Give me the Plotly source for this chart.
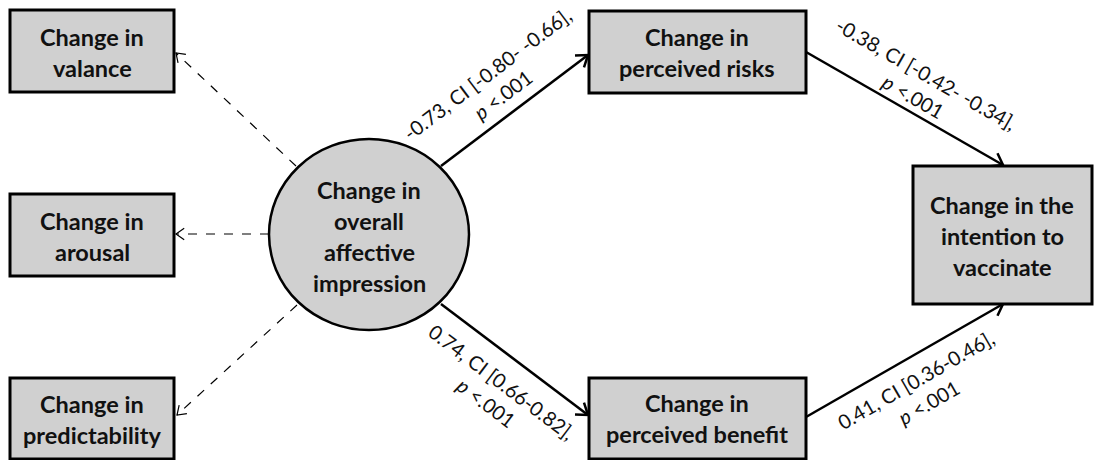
import math
import plotly.graph_objects as go

# ---- data (text content) ----
node_ids = ["valance", "arousal", "predict", "overall", "risks", "benefit", "intention"]
node_lines = [
    ["Change in", "valance"],
    ["Change in", "arousal"],
    ["Change in", "predictability"],
    ["Change in", "overall", "affective", "impression"],
    ["Change in", "perceived risks"],
    ["Change in", "perceived benefit"],
    ["Change in the", "intention to", "vaccinate"],
]
edge_from = ["overall", "overall", "risks", "benefit"]
edge_to = ["risks", "benefit", "intention", "intention"]
edge_coef = ["-0.73", "0.74", "-0.38", "0.41"]
edge_ci = ["[-0.80- -0.66]", "[0.66-0.82]", "[-0.42- -0.34]", "[0.36-0.46]"]
edge_p = ["<.001", "<.001", "<.001", "<.001"]
loading_to = ["valance", "arousal", "predict"]

# ---- layout geometry (pixels) ----
W, H = 1094, 460
boxes = {
    "valance": (10, 10, 174, 92),
    "arousal": (10, 194, 174, 276),
    "predict": (10, 378, 174, 459),
    "risks": (589, 11, 806, 93),
    "benefit": (589, 378, 806, 459),
    "intention": (913, 166, 1092, 304),
}
circle = (269, 139, 469, 330)
node_center = {
    "overall": (369, 236),
    "valance": (92, 52),
    "arousal": (92, 236),
    "predict": (92, 419),
    "risks": (697, 52),
    "benefit": (697, 418),
    "intention": (1002, 236),
}

edge_geom = {
    ("overall", "risks"): ((441, 166), (588, 55)),
    ("overall", "benefit"): ((441, 304), (588, 415)),
    ("risks", "intention"): ((806, 52), (1003, 165)),
    ("benefit", "intention"): ((806, 417), (1003, 304)),
}
edge_label_pos = [(495, 84), (494, 392), (920, 85), (922, 391)]
load_geom = {
    "valance": ((296, 166), (176, 53)),
    "arousal": ((269, 234), (176, 234)),
    "predict": ((297, 305), (177, 415)),
}

FILL = "#d0d0d0"
TXT = "#111111"
fig = go.Figure()


def arrow(p0, p1, width, dash, head, hw):
    x0, y0 = p0
    x1, y1 = p1
    fig.add_trace(go.Scatter(x=[x0, x1], y=[y0, y1], mode="lines",
                             line=dict(color="black", width=width, dash=dash),
                             hoverinfo="skip", showlegend=False))
    ang = math.atan2(y1 - y0, x1 - x0)
    pts = []
    for s in (1, -1):
        a = ang + math.pi + s * math.radians(35)
        pts.append((x1 + head * math.cos(a), y1 + head * math.sin(a)))
    fig.add_trace(go.Scatter(x=[pts[0][0], x1, pts[1][0]], y=[pts[0][1], y1, pts[1][1]],
                             mode="lines", line=dict(color="black", width=hw),
                             hoverinfo="skip", showlegend=False))


for k in loading_to:
    p0, p1 = load_geom[k]
    arrow(p0, p1, 1.2, "dash", 10, 1.2)

for i, (a, b) in enumerate(zip(edge_from, edge_to)):
    p0, p1 = edge_geom[(a, b)]
    arrow(p0, p1, 2.5, "solid", 13, 2.5)
    ang = math.degrees(math.atan2(p1[1] - p0[1], p1[0] - p0[0]))
    lx, ly = edge_label_pos[i]
    fig.add_annotation(x=lx, y=ly, xref="x", yref="y", showarrow=False,
                       text=f"{edge_coef[i]}, CI {edge_ci[i]},<br><i>p</i> {edge_p[i]}",
                       textangle=ang, font=dict(family="Lato", size=20, color=TXT))

shapes = []
for k, (x0, y0, x1, y1) in boxes.items():
    shapes.append(dict(type="rect", xref="x", yref="y", x0=x0, y0=y0, x1=x1, y1=y1,
                       fillcolor=FILL, line=dict(color="black", width=3), layer="above"))
cx0, cy0, cx1, cy1 = circle
shapes.append(dict(type="circle", xref="x", yref="y", x0=cx0, y0=cy0, x1=cx1, y1=cy1,
                   fillcolor=FILL, line=dict(color="black", width=2.5), layer="above"))

LS = 31
for k, lines in zip(node_ids, node_lines):
    cx, cy = node_center[k]
    n = len(lines)
    for j, t in enumerate(lines):
        fig.add_annotation(x=cx, y=cy + (j - (n - 1) / 2) * LS, xref="x", yref="y",
                           showarrow=False, text=f"<b>{t}</b>",
                           font=dict(family="Lato", size=23.5, color=TXT))

fig.update_layout(
    width=W, height=H, margin=dict(l=0, r=0, t=0, b=0),
    paper_bgcolor="white", plot_bgcolor="white", shapes=shapes,
    xaxis=dict(range=[0, W], visible=False, fixedrange=True),
    yaxis=dict(range=[H, 0], visible=False, fixedrange=True),
)
fig.write_html("out.html", config={"displayModeBar": False},
               post_script="document.body.style.margin='0';document.body.style.overflow='hidden';")
